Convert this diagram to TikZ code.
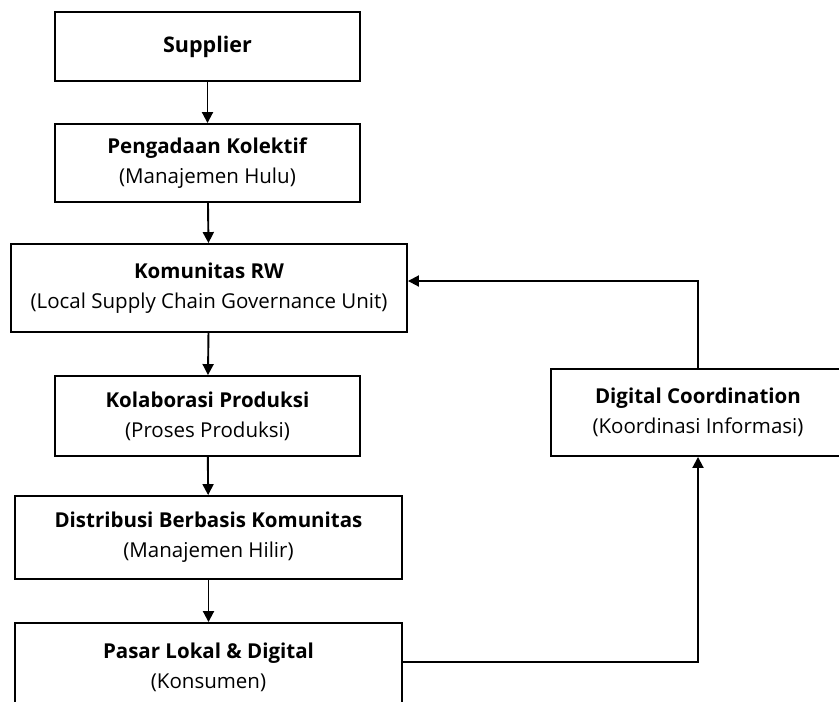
\documentclass[tikz,border=0pt]{standalone}
\usepackage{fontspec}
\setmainfont{Open Sans}
\usetikzlibrary{arrows.meta}

\begin{document}
\begin{tikzpicture}[x=1pt,y=-1pt,line width=1.9pt,
    flow node/.style={rectangle,draw,fill=white,align=center,inner sep=0pt,font=\fontsize{20.5}{30}\selectfont},
    flow arrow/.style={-{Triangle[width=11pt,length=11pt]}}]
    \useasboundingbox (0,0) rectangle (839,702);
    \clip (0,0) rectangle (839,702);
    \node[flow node,minimum width=305pt,minimum height=69pt,font=\fontsize{21.5}{30}\selectfont] (sup) at (207.5,46.5) {\textbf{Supplier}};
    \node[flow node,minimum width=305pt,minimum height=78pt] (peng) at (207.5,163) {\textbf{Pengadaan Kolektif}\\(Manajemen Hulu)};
    \node[flow node,minimum width=396pt,minimum height=88pt] (rw) at (209,288) {\textbf{Komunitas RW}\\(Local Supply Chain Governance Unit)};
    \node[flow node,minimum width=305pt,minimum height=80pt] (kol) at (207.5,416) {\textbf{Kolaborasi Produksi}\\(Proses Produksi)};
    \node[flow node,minimum width=387pt,minimum height=83pt] (dist) at (208.5,537.5) {\textbf{Distribusi Berbasis Komunitas}\\(Manajemen Hilir)};
    \node[flow node,minimum width=387pt,minimum height=88pt] (pasar) at (208.5,667) {\textbf{Pasar Lokal \& Digital}\\(Konsumen)};
    \node[flow node,minimum width=294pt,minimum height=87pt] (dig) at (698,412.5) {\textbf{Digital Coordination}\\(Koordinasi Informasi)};

    \draw[flow arrow] (sup) -- (peng);
    \draw[flow arrow] (peng) -- (rw);
    \draw[flow arrow] (rw) -- (kol);
    \draw[flow arrow] (kol) -- (dist);
    \draw[flow arrow] (dist) -- (pasar);
    \draw[flow arrow] ([yshift=5pt]pasar.east) -| (dig.south);
    \draw[flow arrow] (dig.north) |- ([yshift=7pt]rw.east);
\end{tikzpicture}
\end{document}
